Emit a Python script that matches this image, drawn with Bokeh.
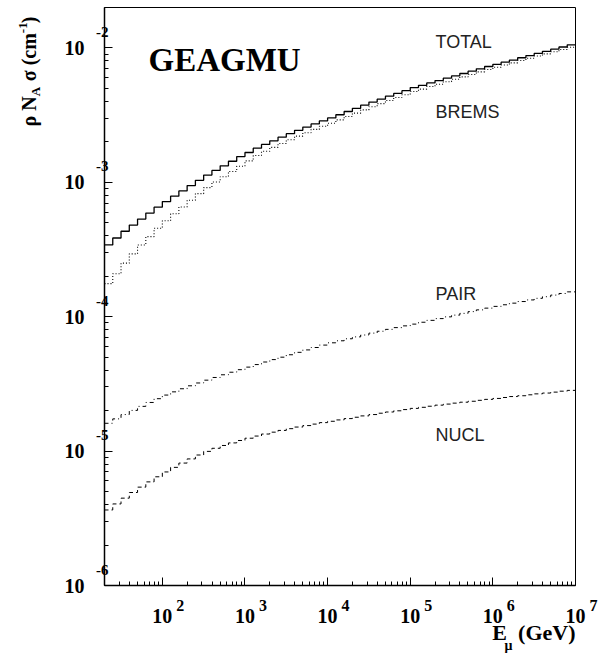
import math
from bokeh.plotting import figure
from bokeh.models import (FixedTicker, CustomJSTickFormatter, LogAxis, Range1d, LogScale, Label)
from bokeh.embed import file_html
from bokeh.resources import INLINE

# ---- binning (log10 of muon energy in GeV) ----
LOG_E_LOW = 1.3
BIN_WIDTH = 0.1
N_BINS = 57
E_EDGES = [10 ** round(LOG_E_LOW + BIN_WIDTH * i, 1) for i in range(N_BINS + 1)]

# ---- values: log10(rho N_A sigma / cm^-1) per bin ----
TOTAL_LOG10 = [-3.466, -3.414, -3.364, -3.318, -3.273, -3.229, -3.185, -3.143, -3.103, -3.064,
               -3.024, -2.985, -2.946, -2.911, -2.877, -2.843, -2.808, -2.778, -2.746, -2.718,
               -2.691, -2.664, -2.638, -2.613, -2.589, -2.565, -2.543, -2.521, -2.497, -2.473,
               -2.449, -2.426, -2.403, -2.381, -2.359, -2.338, -2.318, -2.295, -2.278, -2.260,
               -2.243, -2.225, -2.208, -2.190, -2.173, -2.155, -2.138, -2.122, -2.106, -2.090,
               -2.073, -2.057, -2.041, -2.025, -2.009, -1.993, -1.977]
BREMS_LOG10 = [-3.754, -3.680, -3.601, -3.532, -3.466, -3.404, -3.342, -3.286, -3.234, -3.183,
               -3.133, -3.084, -3.039, -2.998, -2.958, -2.919, -2.880, -2.840, -2.800, -2.769,
               -2.740, -2.711, -2.683, -2.656, -2.631, -2.606, -2.583, -2.560, -2.535, -2.510,
               -2.485, -2.461, -2.437, -2.414, -2.391, -2.369, -2.348, -2.324, -2.306, -2.287,
               -2.270, -2.251, -2.233, -2.215, -2.197, -2.178, -2.160, -2.144, -2.127, -2.111,
               -2.093, -2.077, -2.060, -2.044, -2.028, -2.011, -1.995]
PAIR_LOG10 = [-4.793, -4.760, -4.728, -4.697, -4.667, -4.638, -4.610, -4.583, -4.559, -4.536,
              -4.514, -4.493, -4.472, -4.452, -4.432, -4.413, -4.394, -4.375, -4.356, -4.337,
              -4.319, -4.301, -4.283, -4.265, -4.247, -4.229, -4.211, -4.194, -4.179, -4.164,
              -4.150, -4.136, -4.122, -4.108, -4.094, -4.081, -4.068, -4.055, -4.041, -4.027,
              -4.014, -4.001, -3.988, -3.975, -3.962, -3.949, -3.936, -3.923, -3.911, -3.899,
              -3.887, -3.875, -3.863, -3.851, -3.839, -3.827, -3.815]
NUCL_LOG10 = [-5.438, -5.393, -5.350, -5.308, -5.268, -5.229, -5.191, -5.155, -5.121, -5.089,
              -5.058, -5.029, -5.002, -4.979, -4.958, -4.939, -4.921, -4.904, -4.888, -4.873,
              -4.859, -4.846, -4.833, -4.821, -4.810, -4.799, -4.788, -4.778, -4.768, -4.758,
              -4.748, -4.738, -4.728, -4.718, -4.709, -4.700, -4.691, -4.682, -4.674, -4.666,
              -4.658, -4.650, -4.643, -4.636, -4.629, -4.622, -4.615, -4.608, -4.601, -4.594,
              -4.588, -4.581, -4.574, -4.568, -4.561, -4.554, -4.548]

SERIES_NAMES = ["TOTAL", "BREMS", "PAIR", "NUCL"]
X_DECADES = [2, 3, 4, 5, 6, 7]
Y_DECADES = [-2, -3, -4, -5, -6]

X_START, X_END = E_EDGES[0], 1e7
Y_START, Y_END = 1e-6, 2e-2

W, H = 600, 655
BL, BR, BT, BB = 104, 25, 7, 66
p = figure(width=W, height=H, x_axis_type="log", y_axis_type="log",
           x_range=(X_START, X_END), y_range=(Y_START, Y_END),
           output_backend="svg", toolbar_location=None,
           min_border_left=BL, min_border_right=BR, min_border_top=BT, min_border_bottom=BB)
p.background_fill_color = "white"
p.border_fill_color = "white"
p.outline_line_color = "black"
p.outline_line_width = 1
p.grid.visible = False

x_major = [10.0 ** k for k in X_DECADES]
y_major = [10.0 ** k for k in Y_DECADES]
x_minor = [m * 10.0 ** k for k in range(1, 7) for m in range(2, 10)]
y_minor = [m * 10.0 ** k for k in range(-6, -1) for m in range(2, 10)]

ax_x = p.below[0]
ax_y = p.left[0]
ax_x.ticker = FixedTicker(ticks=x_major, minor_ticks=x_minor)
ax_y.ticker = FixedTicker(ticks=y_major, minor_ticks=y_minor)
for ax in (ax_x, ax_y):
    ax.formatter = CustomJSTickFormatter(code="return ''")
    ax.major_tick_in = 8
    ax.major_tick_out = 0
    ax.minor_tick_in = 4
    ax.minor_tick_out = 0
    ax.axis_line_width = 1.5
    ax.axis_line_color = "black"
    ax.major_label_standoff = 0


def label_axis(**kw):
    return LogAxis(axis_line_color=None, major_tick_line_color=None, minor_tick_line_color=None,
                   major_tick_out=0, minor_tick_out=0, major_tick_in=0, minor_tick_in=0,
                   major_label_text_font="Liberation Serif", major_label_text_font_style="bold",
                   major_label_text_color="black", **kw)


exp_fmt = CustomJSTickFormatter(code="return String(Math.round(Math.log10(tick)))")
ten_fmt = CustomJSTickFormatter(code="return '10'")

frame_h = H - BT - BB
frame_w = W - BL - BR
px_per_dec_y = frame_h / math.log10(Y_END / Y_START)
px_per_dec_x = frame_w / math.log10(X_END / X_START)


def y_at_px(px_from_top):
    return 10 ** (math.log10(Y_END) - (px_from_top - BT) / px_per_dec_y)


def x_at_px(px_from_left):
    return 10 ** (math.log10(X_START) + (px_from_left - BL) / px_per_dec_x)


# y exponents: an axis on a range shifted so that labels sit ~16 px above their tick
shift_dec = 16.0 / px_per_dec_y
p.extra_y_ranges = {"yexp": Range1d(Y_START * 10 ** (-shift_dec), Y_END * 10 ** (-shift_dec))}
p.extra_y_scales = {"yexp": LogScale()}
y_exp_axis = label_axis(y_range_name="yexp", ticker=FixedTicker(ticks=y_major), formatter=exp_fmt,
                        major_label_standoff=-4, major_label_text_font_size="15px")
p.add_layout(y_exp_axis, "left")
y_ten_axis = label_axis(ticker=FixedTicker(ticks=y_major), formatter=ten_fmt,
                        major_label_standoff=9, major_label_text_font_size="20px")
p.add_layout(y_ten_axis, "left")

# y title pieces: rho N_A sigma (cm^-1), drawn as rotated side-panel texts
NB = "\u00a0"
Y_TITLE = [
    # text, font size, centre (px from top), standoff
    ("\u03c1 N" + NB * 2 + " \u03c3 (cm" + NB * 2 + ")", "20px", 71.4, 21),
    ("-1", "13px", 27.4, -12),
    ("A", "13px", 91.6, -28),
]
for txt, size, centre_px, standoff in Y_TITLE:
    ax = label_axis(ticker=FixedTicker(ticks=[y_at_px(centre_px)]),
                    formatter=CustomJSTickFormatter(args=dict(t=txt), code="return t"),
                    major_label_orientation="vertical", major_label_standoff=standoff,
                    major_label_text_font_size=size)
    p.add_layout(ax, "left")

# x exponents (padded with no-break spaces so they sit right of the "10")
x_exp_fmt = CustomJSTickFormatter(args=dict(pad=NB * 9),
                                  code="return pad + String(Math.round(Math.log10(tick)))")
x_exp_axis = label_axis(ticker=FixedTicker(ticks=x_major), formatter=x_exp_fmt,
                        major_label_standoff=11, major_label_text_font_size="16px")
p.add_layout(x_exp_axis, "below")
x_ten_axis = label_axis(ticker=FixedTicker(ticks=x_major), formatter=ten_fmt,
                        major_label_standoff=-8, major_label_text_font_size="20px")
p.add_layout(x_ten_axis, "below")

# x title pieces: E_mu (GeV)
X_TITLE = [
    # texts, centres (px from left), font size, standoff
    (["E", "(GeV)"], [499.0, 546.3], "22px", -6),
    (["\u03bc"], [508.0], "14px", -10),
]
for texts, centres, size, standoff in X_TITLE:
    ax = label_axis(ticker=FixedTicker(ticks=[x_at_px(c) for c in centres]),
                    formatter=CustomJSTickFormatter(args=dict(t=texts), code="return t[index]"),
                    major_label_standoff=standoff, major_label_text_font_size=size)
    p.add_layout(ax, "below")

styles = {
    "TOTAL": dict(line_dash="solid", line_width=1.3),
    "BREMS": dict(line_dash="1 2", line_width=1.1),
    "PAIR": dict(line_dash="4 3 1 3", line_width=1.0),
    "NUCL": dict(line_dash="4 3", line_width=1.0),
}
data = {"TOTAL": TOTAL_LOG10, "BREMS": BREMS_LOG10, "PAIR": PAIR_LOG10, "NUCL": NUCL_LOG10}
for name in SERIES_NAMES:
    vals = [10 ** v for v in data[name]]
    p.step(x=E_EDGES, y=vals + [vals[-1]], mode="after", line_color="black", **styles[name])

# curve labels (vertical centres, px from top)
LABEL_LEFT_PX = 435
LABEL_MID_PX = {"TOTAL": 41.5, "BREMS": 112.1, "PAIR": 295.5, "NUCL": 437.8}
for name in SERIES_NAMES:
    p.add_layout(Label(x=x_at_px(LABEL_LEFT_PX), y=y_at_px(LABEL_MID_PX[name]), text=name,
                       text_align="left", text_baseline="middle", text_font="Liberation Sans",
                       text_font_size="18px", text_color="#222222"))

p.add_layout(Label(x=x_at_px(148), y=y_at_px(59.5), text="GEAGMU", text_align="left",
                   text_baseline="middle", text_font="Liberation Serif",
                   text_font_style="bold", text_font_size="33px", text_color="black"))

open("out.html", "w").write(file_html(p, INLINE))
